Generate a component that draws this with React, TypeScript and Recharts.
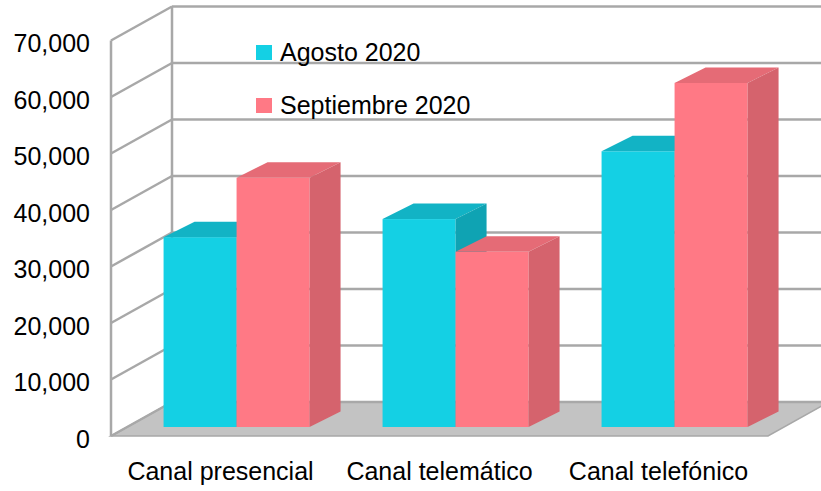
import React from "react";
import { BarChart, Bar, XAxis, YAxis, CartesianGrid, Legend } from "recharts";

const categories = ["Canal presencial", "Canal telemático", "Canal telefónico"];
const agosto = [33600, 36800, 48800];
const septiembre = [44100, 31000, 60900];
const yTicks = [0, 10000, 20000, 30000, 40000, 50000, 60000, 70000];
const seriesNames = ["Agosto 2020", "Septiembre 2020"];

const data = categories.map((name, i) => ({ name, agosto: agosto[i], septiembre: septiembre[i] }));

const FONT = '"Liberation Sans", Arial, sans-serif';
const GRID = "#a8a8a8";

// projection of the 3D box: front plane / back wall relative to the bar plane
const FRONT_DX = -16;
const FRONT_DY = 9;
const BACK_DX = 45;
const BACK_DY = -25;
// bar depth
const BAR_DX = 31;
const BAR_DY = 15.5;

const CYAN = { front: "#14d0e4", top: "#12b3c5", side: "#0fa3b3" };
const PINK = { front: "#ff7985", top: "#e56b76", side: "#d5636d" };

const makeBox = (c: typeof CYAN) => (props: any) => {
  const { x, y, width: w, height: h } = props;
  if (h == null || w == null) return null;
  return (
    <g>
      <rect x={x} y={y} width={w} height={h} fill={c.front} />
      <polygon
        points={`${x},${y} ${x + BAR_DX},${y - BAR_DY} ${x + w + BAR_DX},${y - BAR_DY} ${x + w},${y}`}
        fill={c.top}
      />
      <polygon
        points={`${x + w},${y} ${x + w + BAR_DX},${y - BAR_DY} ${x + w + BAR_DX},${y + h - BAR_DY} ${x + w},${y + h}`}
        fill={c.side}
      />
    </g>
  );
};

const GridLine = (props: any) => {
  const { x1, x2, y1, index, y: top, height } = props;
  const bottom = top + height;
  const fx = x1 + FRONT_DX;
  const bx = x1 + BACK_DX;
  return (
    <g key={`g-${index}`}>
      {index === 0 && (
        <g>
          <polygon
            points={`${fx},${bottom + FRONT_DY} ${x2 + FRONT_DX},${bottom + FRONT_DY} ${x2 + BACK_DX},${bottom + BACK_DY} ${bx},${bottom + BACK_DY}`}
            fill="#c3c3c3"
            stroke={GRID}
            strokeWidth={1.5}
          />
          <line x1={fx} y1={top + FRONT_DY} x2={fx} y2={bottom + FRONT_DY} stroke={GRID} strokeWidth={2.5} />
          <line x1={bx} y1={top + BACK_DY} x2={bx} y2={bottom + BACK_DY} stroke={GRID} strokeWidth={2.5} />
        </g>
      )}
      <line x1={fx} y1={y1 + FRONT_DY} x2={bx} y2={y1 + BACK_DY} stroke={GRID} strokeWidth={2.5} />
      <line x1={bx} y1={y1 + BACK_DY} x2={x2 + BACK_DX} y2={y1 + BACK_DY} stroke={GRID} strokeWidth={2.5} />
    </g>
  );
};

const YTick = ({ x, y, payload }: any) => (
  <text x={90} y={y + FRONT_DY + 2.5} dy="0.36em" textAnchor="end" fontSize={25} fontFamily={FONT} fill="#000">
    {Number(payload.value).toLocaleString("en-US")}
  </text>
);

const XTick = ({ x, y, payload }: any) => (
  <text x={x + FRONT_DX} y={y + 53} textAnchor="middle" fontSize={25} fontFamily={FONT} fill="#000">
    {payload.value}
  </text>
);

const LegendBox = () => (
  <div style={{ fontFamily: FONT, fontSize: 25, color: "#000" }}>
    {seriesNames.map((s, i) => (
      <div key={s} style={{ display: "flex", alignItems: "center", height: 53, lineHeight: "53px" }}>
        <span style={{ width: 16, height: 15, background: i === 0 ? CYAN.front : PINK.front, marginRight: 8 }} />
        <span>{s}</span>
      </div>
    ))}
  </div>
);

export default function App() {
  return (
    <div style={{ position: "absolute", left: 0, top: 0, width: 821, height: 491, background: "#fff" }}>
      <BarChart
        width={821}
        height={491}
        data={data}
        margin={{ top: 31.5, right: 37, left: 0, bottom: 24 }}
        barCategoryGap="16.7%"
        barGap={0}
      >
        <CartesianGrid horizontal={GridLine} vertical={false} />
        <XAxis dataKey="name" height={40} axisLine={false} tickLine={false} tickSize={0} tickMargin={0} tick={<XTick />} interval={0} />
        <YAxis width={127} domain={[0, 70000]} ticks={yTicks} axisLine={false} tickLine={false} tick={<YTick />} />
        <Legend
          layout="vertical"
          align="center"
          verticalAlign="middle"
          content={<LegendBox />}
          wrapperStyle={{ top: 26, left: 256, width: "auto" }}
        />
        <Bar dataKey="agosto" name={seriesNames[0]} shape={makeBox(CYAN)} isAnimationActive={false} />
        <Bar dataKey="septiembre" name={seriesNames[1]} shape={makeBox(PINK)} isAnimationActive={false} />
      </BarChart>
    </div>
  );
}
